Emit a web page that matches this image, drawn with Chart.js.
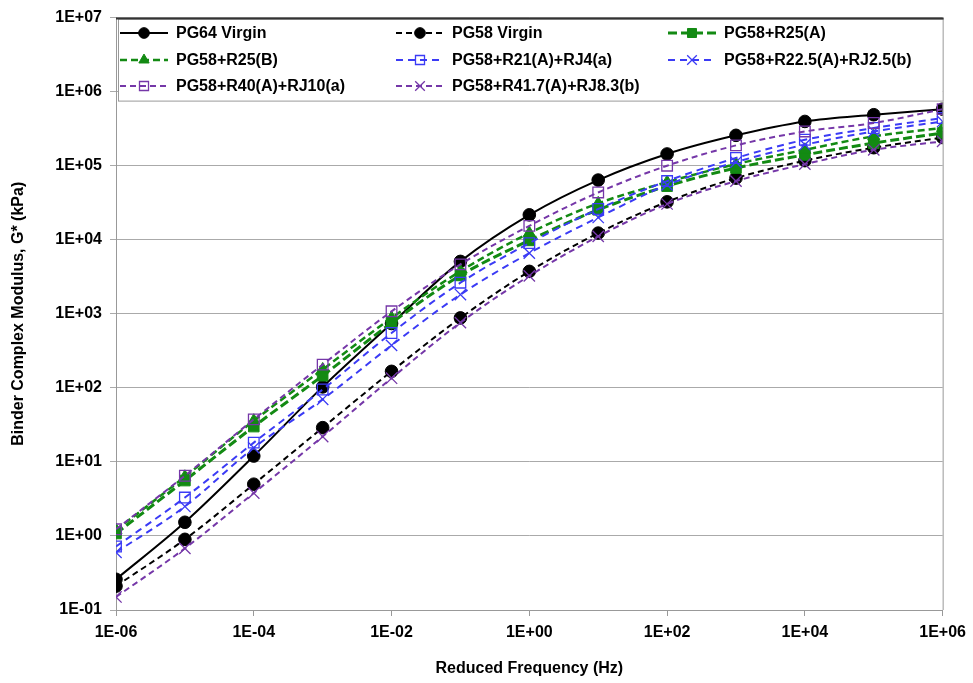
<!DOCTYPE html>
<html>
<head>
<meta charset="utf-8">
<script src="https://cdn.jsdelivr.net/npm/chart.js@4.4.0/dist/chart.umd.min.js"></script>
<style>
  html, body { margin: 0; padding: 0; background: #fff; }
  #wrap { width: 973px; height: 683px; }
</style>
</head>
<body>
<div id="wrap"><canvas id="gChart" width="973" height="683"></canvas></div>
<script>
// reduced frequency (Hz), one point per decade
const freq = [1e-6, 1e-5, 1e-4, 1e-3, 1e-2, 1e-1, 1e0, 1e1, 1e2, 1e3, 1e4, 1e5, 1e6];

// |G*| in kPa
const pg64Virgin = [0.26, 1.53, 12, 103, 740, 5100, 21700, 64000, 144000, 257000, 396000, 488000, 580000];
const pg58Virgin = [0.21, 0.9, 5.0, 29, 167, 880, 3740, 12300, 32500, 68000, 117000, 175000, 240000];
const r25A = [1.08, 5.6, 30, 146, 755, 3300, 9800, 25400, 53000, 93000, 140000, 202000, 277000];
const r25B = [1.2, 6.3, 36, 177, 880, 3760, 12300, 31000, 60000, 105000, 164000, 249000, 323000];
const r21rj4 = [0.72, 3.3, 18.2, 95, 550, 2630, 9000, 26000, 62000, 127000, 224000, 323000, 440000];
const r22rj2 = [0.6, 2.5, 15.5, 70, 375, 1820, 6600, 20000, 55000, 112000, 192000, 290000, 396000];
const r40rj10 = [1.23, 6.5, 37.5, 206, 1080, 4650, 15400, 43500, 100000, 188000, 290000, 377000, 580000];
const r417rj8 = [0.15, 0.68, 3.8, 22, 135, 760, 3250, 11100, 30400, 62000, 105000, 164000, 213000];

const seriesNames = ['PG64 Virgin', 'PG58 Virgin', 'PG58+R25(A)', 'PG58+R25(B)',
  'PG58+R21(A)+RJ4(a)', 'PG58+R22.5(A)+RJ2.5(b)', 'PG58+R40(A)+RJ10(a)', 'PG58+R41.7(A)+RJ8.3(b)'];

const xTicks = [1e-6, 1e-4, 1e-2, 1e0, 1e2, 1e4, 1e6];
const xTickLabels = ['1E-06', '1E-04', '1E-02', '1E+00', '1E+02', '1E+04', '1E+06'];
const yTicks = [1e-1, 1e0, 1e1, 1e2, 1e3, 1e4, 1e5, 1e6, 1e7];
const yTickLabels = ['1E-01', '1E+00', '1E+01', '1E+02', '1E+03', '1E+04', '1E+05', '1E+06', '1E+07'];

const FONT = '"Liberation Sans", Arial, sans-serif';
const GREEN = '#138a13';
const BLUE = '#3b3bf5';
const PURPLE = '#7537a8';

function pts(vals) {
  return freq.map((f, i) => ({ x: f, y: vals[i] }));
}

function series(name, vals, color, opts) {
  return Object.assign({
    label: name,
    data: pts(vals),
    showLine: true,
    borderColor: color,
    backgroundColor: color,
    pointBorderColor: color,
    pointBackgroundColor: color,
    borderWidth: 2,
    pointBorderWidth: 1,
    cubicInterpolationMode: 'monotone',
    pointHoverRadius: 0
  }, opts);
}

const datasets = [
  series(seriesNames[0], pg64Virgin, '#000', { pointStyle: 'circle', pointRadius: 6.3, borderWidth: 2 }),
  series(seriesNames[1], pg58Virgin, '#000', { pointStyle: 'circle', pointRadius: 6.3, borderDash: [6, 4] }),
  series(seriesNames[2], r25A, GREEN, { pointStyle: 'rect', pointRadius: 7.5, borderWidth: 3, borderDash: [9, 4] }),
  series(seriesNames[3], r25B, GREEN, { pointStyle: 'triangle', pointRadius: 7, borderWidth: 2.5, borderDash: [7, 4] }),
  series(seriesNames[4], r21rj4, BLUE, { pointStyle: 'rect', pointRadius: 7.5, pointBackgroundColor: 'rgba(0,0,0,0)', pointBorderWidth: 1.3, borderDash: [7, 5] }),
  series(seriesNames[5], r22rj2, BLUE, { pointStyle: 'crossRot', pointRadius: 8, pointBorderWidth: 1.3, borderDash: [7, 5] }),
  series(seriesNames[6], r40rj10, PURPLE, { pointStyle: 'rect', pointRadius: 7.5, pointBackgroundColor: 'rgba(0,0,0,0)', pointBorderWidth: 1.3, borderDash: [6, 4] }),
  series(seriesNames[7], r417rj8, PURPLE, { pointStyle: 'crossRot', pointRadius: 8, pointBorderWidth: 1.3, borderDash: [6, 4] })
];
// later series sit on top, as in the original
datasets.forEach((ds, i) => { ds.order = datasets.length - i; });

// legend drawn in a box over the top of the plot, 3 columns like the original
const legendBox = {
  id: 'legendBox',
  afterDraw(chart) {
    const ctx = chart.ctx;
    const area = chart.chartArea;
    const cols = [120, 396, 668];
    const rows = [33, 60, 86];
    ctx.save();
    ctx.fillStyle = '#fff';
    ctx.fillRect(area.left + 2, area.top + 1, area.right - area.left - 2, 82);
    ctx.strokeStyle = '#999';
    ctx.lineWidth = 1;
    ctx.strokeRect(area.left + 2.5, area.top + 1.5, area.right - area.left - 2, 82);
    ctx.strokeStyle = '#333';
    ctx.lineWidth = 2;
    ctx.beginPath();
    ctx.moveTo(area.left, area.top + 1);
    ctx.lineTo(area.right + 1, area.top + 1);
    ctx.stroke();

    ctx.font = 'bold 16px ' + FONT;
    ctx.textBaseline = 'middle';
    datasets.forEach((ds, i) => {
      const x = cols[i % 3];
      const y = rows[Math.floor(i / 3)];
      ctx.strokeStyle = ds.borderColor;
      ctx.lineWidth = ds.borderWidth;
      ctx.setLineDash(ds.borderDash || []);
      ctx.beginPath();
      ctx.moveTo(x, y);
      ctx.lineTo(x + 48, y);
      ctx.stroke();
      ctx.setLineDash([]);
      ctx.fillStyle = ds.pointBackgroundColor;
      ctx.strokeStyle = ds.pointBorderColor;
      ctx.lineWidth = ds.pointBorderWidth;
      Chart.helpers.drawPoint(ctx, {
        pointStyle: ds.pointStyle,
        radius: ds.pointRadius * 0.85,
        rotation: 0,
        borderWidth: ds.pointBorderWidth
      }, x + 24, y);
      ctx.fillStyle = '#000';
      ctx.fillText(ds.label, x + 56, y + 1);
    });

    // right edge of the plot
    ctx.strokeStyle = '#999';
    ctx.lineWidth = 1;
    ctx.beginPath();
    ctx.moveTo(area.right + 0.5, area.top + 84);
    ctx.lineTo(area.right + 0.5, area.bottom);
    ctx.stroke();
    ctx.restore();
  }
};

const tickFont = { family: FONT, size: 16, weight: 'bold' };

new Chart(document.getElementById('gChart').getContext('2d'), {
  type: 'scatter',
  data: { datasets },
  plugins: [legendBox],
  options: {
    responsive: false,
    animation: false,
    events: [],
    layout: { padding: { top: 16, right: 29, left: 0, bottom: 0 } },
    plugins: { legend: { display: false }, tooltip: { enabled: false } },
    scales: {
      x: {
        type: 'logarithmic',
        min: 1e-6,
        max: 1e6,
        afterBuildTicks: s => { s.ticks = xTicks.map(v => ({ value: v })); },
        afterFit: s => { s.height = 73; },
        ticks: {
          color: '#000',
          font: tickFont,
          maxRotation: 0,
          autoSkip: false,
          padding: 7,
          callback: (v, i) => xTickLabels[i]
        },
        grid: { drawOnChartArea: false, drawTicks: true, tickLength: 6, color: '#999' },
        border: { color: '#999' },
        title: {
          display: true,
          text: 'Reduced Frequency (Hz)',
          color: '#000',
          font: { family: FONT, size: 16, weight: 'bold' },
          padding: { top: 0, bottom: 5 }
        }
      },
      y: {
        type: 'logarithmic',
        min: 1e-1,
        max: 1e7,
        afterBuildTicks: s => { s.ticks = yTicks.map(v => ({ value: v })); },
        afterFit: s => { s.width = 116; },
        ticks: {
          color: '#000',
          font: tickFont,
          autoSkip: false,
          padding: 8,
          callback: (v, i) => yTickLabels[i]
        },
        grid: { color: '#aaa', tickLength: 6 },
        border: { color: '#999' },
        title: {
          display: true,
          text: 'Binder Complex Modulus, G* (kPa)',
          color: '#000',
          font: { family: FONT, size: 16, weight: 'bold' },
          padding: { top: 9, bottom: 0 }
        }
      }
    }
  }
});
</script>
</body>
</html>
